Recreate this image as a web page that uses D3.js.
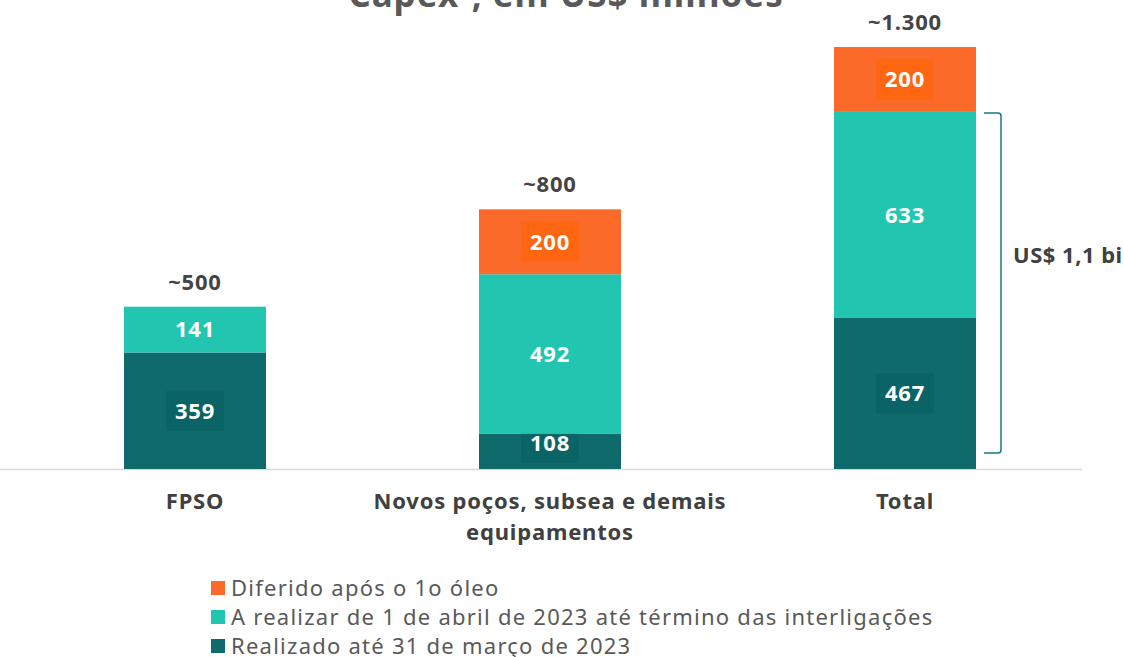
<!DOCTYPE html>
<html>
<head>
<meta charset="utf-8">
<script src="https://cdn.jsdelivr.net/npm/d3@7.9.0/dist/d3.min.js"></script>
<style>
  body { margin: 0; background: #fff; }
  svg { display: block; font-family: "Noto Sans", "Open Sans", sans-serif; }
</style>
</head>
<body>
<svg width="1124" height="657"></svg>
<script>
const categories = [["FPSO"], ["Novos poços, subsea e demais", "equipamentos"], ["Total"]];
const realizado = [359, 108, 467];
const aRealizar = [141, 492, 633];
const diferido = [0, 200, 200];
const totalLabels = ["~500", "~800", "~1.300"];
const seriesNames = [
  "Realizado até 31 de março de 2023",
  "A realizar de 1 de abril de 2023 até término das interligações",
  "Diferido após o 1o óleo"
];
const colors = ["#0e6a6b", "#21c5b0", "#fc6a29"];
const boxColors = ["#0a6465", null, "#ff6612"];

const svg = d3.select('svg');
const baseY = 469;

const x = d3.scaleBand()
  .domain(d3.range(categories.length))
  .range([17.5, 1082.5])
  .paddingInner(0.6)
  .paddingOuter(0.3);

const y = d3.scaleLinear().domain([0, 1300]).range([baseY, 47]);

// title (cut off at top, as in the source)
svg.append('text')
  .attr('x', 566).attr('y', 7)
  .attr('text-anchor', 'middle')
  .attr('font-size', 35).attr('font-weight', 'bold')
  .attr('letter-spacing', 1)
  .attr('fill', '#595959')
  .html('Capex<tspan font-size="20" dy="-13">1</tspan><tspan dy="13">, em US$ milhões</tspan>');

// baseline
svg.append('line')
  .attr('x1', 0).attr('x2', 1082)
  .attr('y1', baseY + 0.5).attr('y2', baseY + 0.5)
  .attr('stroke', '#d9d9d9').attr('stroke-width', 1.5);

const table = categories.map((c, i) => ({ i, realizado: realizado[i], aRealizar: aRealizar[i], diferido: diferido[i] }));
const stack = d3.stack().keys(['realizado', 'aRealizar', 'diferido']);
const layers = stack(table);

layers.forEach((layer, k) => {
  layer.forEach((d) => {
    const v = d[1] - d[0];
    if (v <= 0) return;
    const i = d.data.i;
    const y0 = y(d[0]), y1 = y(d[1]);
    svg.append('rect')
      .attr('x', x(i)).attr('width', x.bandwidth())
      .attr('y', y1).attr('height', y0 - y1)
      .attr('fill', colors[k]);

    const cx = x(i) + x.bandwidth() / 2;
    let cy = (y0 + y1) / 2;
    const boxH = 40, boxW = 58;
    if (y0 - y1 < boxH) cy = y0 - 6 - boxH / 2;
    if (boxColors[k]) {
      svg.append('rect')
        .attr('x', cx - boxW / 2).attr('y', cy - boxH / 2)
        .attr('width', boxW).attr('height', boxH)
        .attr('fill', boxColors[k]);
    }
    svg.append('text')
      .attr('x', cx).attr('y', cy)
      .attr('dy', '0.36em')
      .attr('text-anchor', 'middle')
      .attr('font-size', 22).attr('font-weight', 'bold')
      .attr('letter-spacing', 0.8)
      .attr('fill', '#fff')
      .text(v);
  });
});

// totals on top
const tops = layers[layers.length - 1];
tops.forEach((d, i) => {
  svg.append('text')
    .attr('x', x(i) + x.bandwidth() / 2)
    .attr('y', y(d[1]) - 17)
    .attr('text-anchor', 'middle')
    .attr('font-size', 22).attr('font-weight', 'bold')
    .attr('letter-spacing', 0.8)
    .attr('fill', '#444')
    .text(totalLabels[i]);
});

// category labels
categories.forEach((lines, i) => {
  const t = svg.append('text')
    .attr('x', x(i) + x.bandwidth() / 2)
    .attr('y', 509)
    .attr('text-anchor', 'middle')
    .attr('font-size', 22).attr('font-weight', 'bold')
    .attr('letter-spacing', 0.8)
    .attr('fill', '#404040');
  lines.forEach((l, j) => {
    t.append('tspan')
      .attr('x', x(i) + x.bandwidth() / 2)
      .attr('dy', j === 0 ? 0 : 31)
      .text(l);
  });
});

// bracket on Total: realizado + a realizar
const bi = 2;
const bTop = y(realizado[bi] + aRealizar[bi]) + 1;
const bBot = baseY - 16;
const bx = 1001, bl = 984, r = 3;
svg.append('path')
  .attr('d', `M${bl},${bTop} H${bx - r} Q${bx},${bTop} ${bx},${bTop + r} V${bBot - r} Q${bx},${bBot} ${bx - r},${bBot} H${bl}`)
  .attr('fill', 'none').attr('stroke', '#1b7a7a').attr('stroke-width', 1.5);
svg.append('text')
  .attr('x', 1013).attr('y', (bTop + bBot) / 2 - 28)
  .attr('dy', '0.36em')
  .attr('font-size', 22).attr('font-weight', 'bold')
  .attr('letter-spacing', 0.5)
  .attr('fill', '#404040')
  .text('US$ 1,1 bi');

// legend
const legendOrder = [2, 1, 0];
legendOrder.forEach((k, j) => {
  const ly = 588 + j * 29;
  svg.append('rect')
    .attr('x', 211).attr('y', ly - 7)
    .attr('width', 14).attr('height', 14)
    .attr('fill', colors[k]);
  svg.append('text')
    .attr('x', 231).attr('y', ly)
    .attr('dy', '0.36em')
    .attr('font-size', 22)
    .attr('letter-spacing', 1.25)
    .attr('fill', '#595959')
    .text(seriesNames[k]);
});
</script>
</body>
</html>
